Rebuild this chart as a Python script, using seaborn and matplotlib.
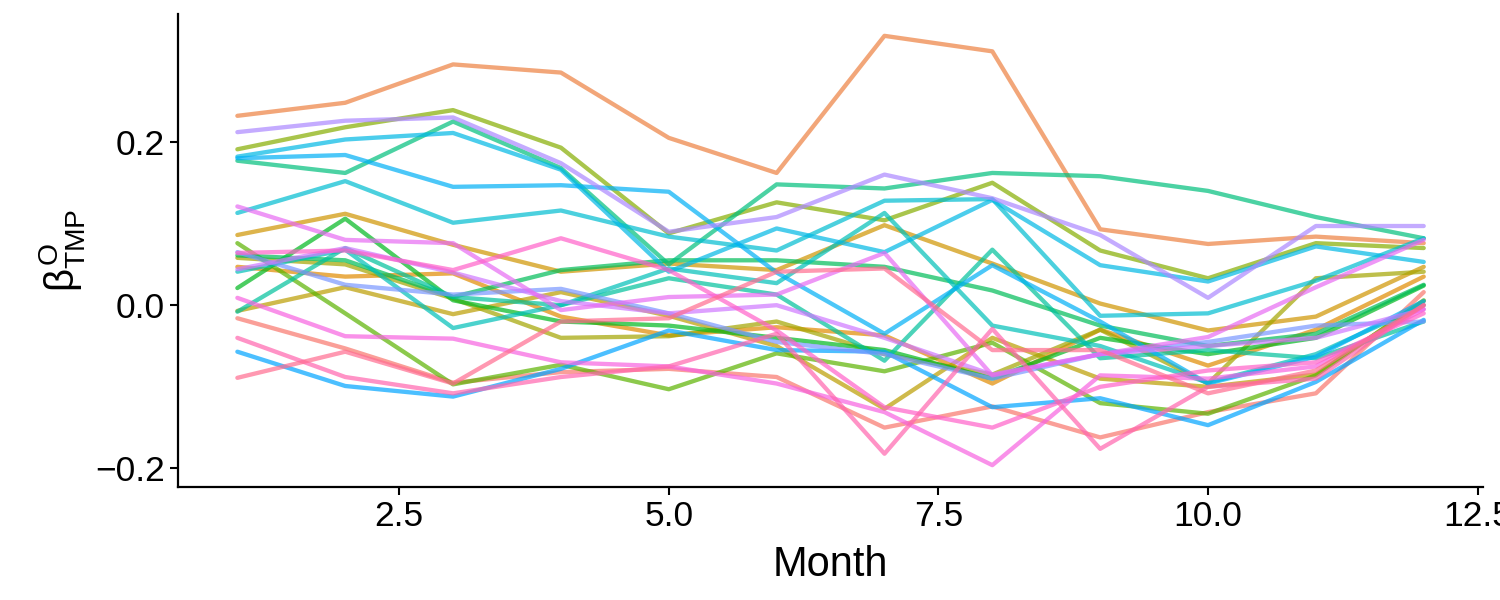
import numpy as np
import pandas as pd
import seaborn as sns
import matplotlib
matplotlib.use("Agg")
import matplotlib.pyplot as plt

# months on the x axis
months = [1, 2, 3, 4, 5, 6, 7, 8, 9, 10, 11, 12]

# one coefficient series per line
s00 = [-0.016, -0.053, -0.095, -0.082, -0.078, -0.088, -0.150, -0.124, -0.162, -0.131, -0.108, 0.016]
s01 = [0.232, 0.248, 0.295, 0.285, 0.205, 0.162, 0.330, 0.311, 0.093, 0.075, 0.084, 0.076]
s02 = [0.047, 0.035, 0.039, -0.014, -0.037, -0.027, -0.037, -0.096, -0.030, -0.074, -0.030, 0.035]
s03 = [0.086, 0.112, 0.074, 0.041, 0.051, 0.043, 0.098, 0.051, 0.002, -0.031, -0.014, 0.047]
s04 = [-0.007, 0.022, -0.011, 0.016, -0.013, -0.050, -0.127, -0.040, -0.090, -0.100, -0.085, 0.005]
s05 = [0.191, 0.218, 0.239, 0.193, 0.088, 0.126, 0.104, 0.150, 0.067, 0.033, 0.076, 0.070]
s06 = [0.076, -0.010, -0.097, -0.073, -0.103, -0.059, -0.081, -0.046, -0.120, -0.133, -0.086, 0.006]
s07 = [0.021, 0.106, 0.006, -0.020, -0.025, -0.040, -0.055, -0.090, -0.040, -0.060, -0.040, 0.024]
s08 = [0.061, 0.055, 0.010, 0.043, 0.055, 0.055, 0.047, 0.018, -0.025, -0.050, -0.035, 0.025]
s09 = [0.058, 0.050, 0.008, -0.040, -0.038, -0.020, -0.060, -0.085, -0.030, -0.096, 0.033, 0.041]
s10 = [0.177, 0.162, 0.225, 0.168, 0.050, 0.148, 0.143, 0.162, 0.158, 0.140, 0.108, 0.082]
s11 = [-0.008, 0.070, 0.010, 0.000, 0.033, 0.013, -0.068, 0.068, -0.065, -0.055, -0.065, -0.020]
s12 = [0.041, 0.068, -0.028, 0.000, 0.045, 0.027, 0.113, -0.025, -0.050, -0.095, -0.060, 0.000]
s13 = [0.113, 0.152, 0.101, 0.116, 0.084, 0.067, 0.128, 0.130, -0.013, -0.010, 0.030, 0.082]
s14 = [0.182, 0.203, 0.211, 0.166, 0.041, 0.094, 0.065, 0.129, 0.049, 0.029, 0.072, 0.053]
s15 = [0.180, 0.184, 0.145, 0.147, 0.139, 0.040, -0.035, 0.049, -0.020, -0.096, -0.063, 0.005]
s16 = [-0.057, -0.099, -0.112, -0.078, -0.031, -0.055, -0.057, -0.125, -0.114, -0.147, -0.094, -0.018]
s17 = [0.212, 0.226, 0.230, 0.174, 0.090, 0.108, 0.160, 0.131, 0.086, 0.009, 0.097, 0.097]
s18 = [0.065, 0.025, 0.013, 0.020, -0.010, -0.045, -0.060, -0.090, -0.060, -0.045, -0.025, -0.020]
s19 = [0.044, 0.070, 0.040, 0.005, -0.010, 0.000, -0.040, -0.085, -0.060, -0.050, -0.040, -0.005]
s20 = [0.121, 0.080, 0.076, -0.006, 0.010, 0.013, 0.064, -0.086, -0.060, -0.039, 0.022, 0.080]
s21 = [0.009, -0.038, -0.041, -0.070, -0.075, -0.096, -0.131, -0.196, -0.086, -0.090, -0.075, -0.005]
s22 = [0.064, 0.067, 0.043, 0.082, 0.043, -0.031, -0.125, -0.150, -0.100, -0.080, -0.070, -0.010]
s23 = [-0.040, -0.088, -0.108, -0.088, -0.075, -0.035, -0.182, -0.029, -0.176, -0.100, -0.090, 0.000]
s24 = [-0.089, -0.057, -0.096, -0.020, -0.016, 0.041, 0.045, -0.055, -0.055, -0.108, -0.080, 0.000]

# order in the hue wheel (red -> orange -> green -> blue -> purple -> pink)
series = [s00, s01, s02, s03, s04, s09, s05, s06, s07, s08, s10, s11, s12,
          s13, s14, s15, s16, s18, s17, s19, s20, s21, s22, s23, s24]


# ggplot style hue palette (HCL, c=100, l=65)
def hcl_hex(h, c=100, l=65):
    hr = np.deg2rad(h)
    u, v = c * np.cos(hr), c * np.sin(hr)
    Y = ((l + 16) / 116) ** 3
    un, vn = 0.19784, 0.46834
    up = u / (13 * l) + un
    vp = v / (13 * l) + vn
    X = Y * 9 * up / (4 * vp)
    Z = Y * (12 - 3 * up - 20 * vp) / (4 * vp)
    m = np.array([[3.2406, -1.5372, -0.4986],
                  [-0.9689, 1.8758, 0.0415],
                  [0.0557, -0.2040, 1.0570]])
    rgb = m @ np.array([X, Y, Z])
    rgb = np.where(rgb <= 0.0031308, 12.92 * rgb, 1.055 * np.clip(rgb, 0, None) ** (1 / 2.4) - 0.055)
    rgb = np.clip(rgb, 0, 1)
    return matplotlib.colors.to_hex(rgb)


n = len(series)
pal = [hcl_hex(15 + 360 * i / n) for i in range(n)]

rows = []
for i, vals in enumerate(series):
    for m, v in zip(months, vals):
        rows.append({"Month": m, "beta": v, "grp": i})
df = pd.DataFrame(rows)

sns.set_style("ticks")
plt.rcParams["font.family"] = ["Liberation Sans", "DejaVu Sans"]
plt.rcParams["mathtext.fontset"] = "custom"
plt.rcParams["mathtext.rm"] = "Liberation Sans"
plt.rcParams["mathtext.it"] = "Liberation Sans"
plt.rcParams["text.color"] = "black"
plt.rcParams["axes.labelcolor"] = "black"

fig = plt.figure(figsize=(15, 6), dpi=100)
ax = fig.add_axes([0.1187, 0.188, 0.87, 0.789])
sns.lineplot(data=df, x="Month", y="beta", hue="grp", palette=pal,
             legend=False, alpha=0.7, linewidth=3.1, ax=ax)

ax.set_xlim(0.45, 12.55)
ax.set_ylim(-0.223, 0.357)
ax.set_xticks([2.5, 5.0, 7.5, 10.0, 12.5])
ax.set_xticklabels(["2.5", "5.0", "7.5", "10.0", "12.5"])
ax.set_yticks([-0.2, 0.0, 0.2])
ax.set_yticklabels(["\u22120.2", "0.0", "0.2"])
ax.set_xlabel("Month", fontsize=30, labelpad=8, color="black")
ax.set_ylabel(r"$\beta^{\mathrm{O}}_{\mathrm{TMP}}$", fontsize=29, labelpad=6, color="black")
ax.tick_params(labelsize=25.5, width=1.5, length=6, color="black", labelcolor="black")
for sp in ["left", "bottom"]:
    ax.spines[sp].set_linewidth(1.6)
    ax.spines[sp].set_color("black")
sns.despine(ax=ax)

fig.savefig("out.png", dpi=100)
